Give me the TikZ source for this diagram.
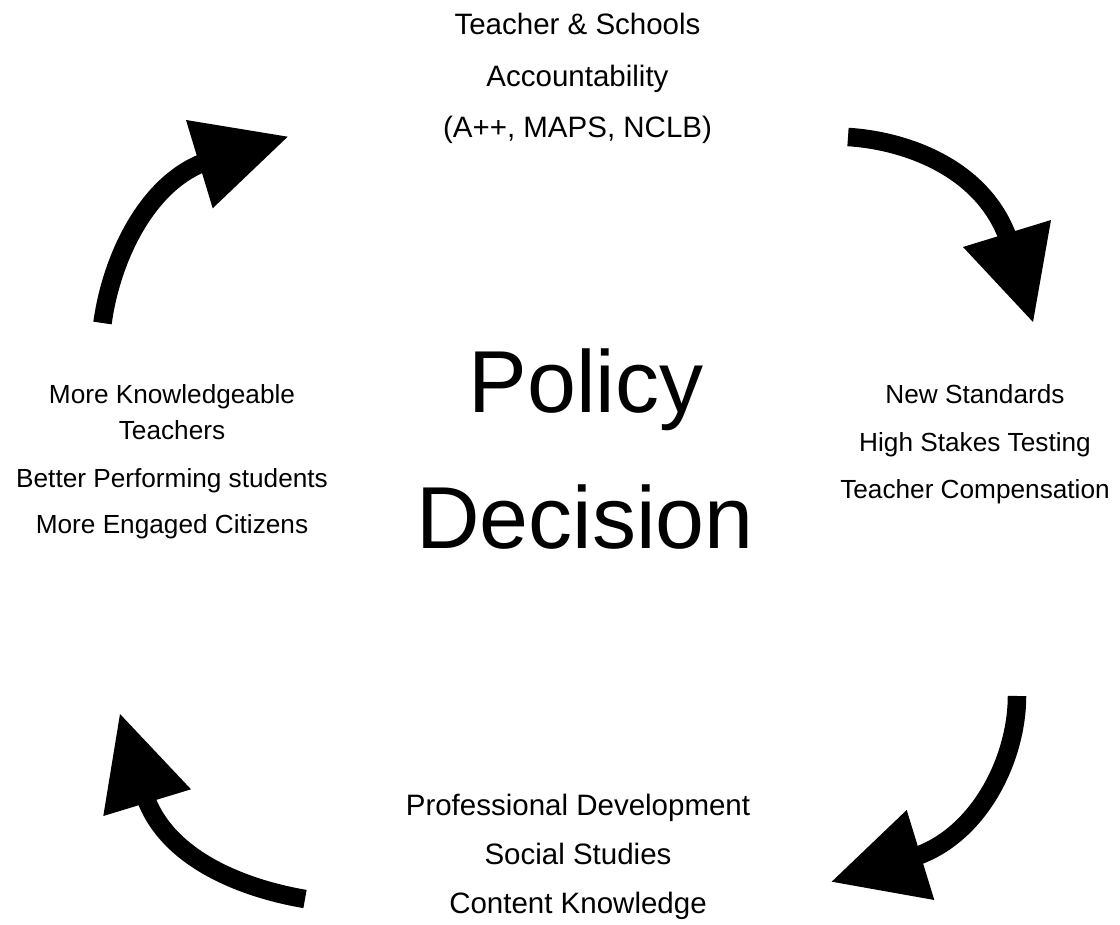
\documentclass[tikz,border=0pt]{standalone}
\usepackage{fontspec}
\setmainfont{Liberation Sans}
\begin{document}
\begin{tikzpicture}[x=1pt,y=-1pt,
  lbl/.style={inner sep=0pt,anchor=base,font=\fontsize{29.5}{30}\selectfont},
  slbl/.style={inner sep=0pt,anchor=base,font=\fontsize{26.2}{27}\selectfont},
  big/.style={inner sep=0pt,anchor=base,font=\fontsize{88}{90}\selectfont},
  shaft/.style={line width=18.5pt,line cap=butt,draw=black},
  head/.style={fill=black,draw=none}]
\useasboundingbox (0,0) rectangle (1120,925);
% top text
\node[lbl] (t1) at (577.5,35) {Teacher \& Schools};
\node[lbl] (t2) at (577.5,87) {Accountability};
\node[lbl] (t3) at (577.5,138) {(A++, MAPS, NCLB)};
% right text
\node[slbl] (r1) at (975,404) {New Standards};
\node[slbl] (r2) at (975,452) {High Stakes Testing};
\node[slbl] (r3) at (975,498) {Teacher Compensation};
% bottom text
\node[lbl] (b1) at (578,815) {Professional Development};
\node[lbl] (b2) at (578,864) {Social Studies};
\node[lbl] (b3) at (578,913) {Content Knowledge};
% left text
\node[slbl] (l1) at (172,403) {More Knowledgeable};
\node[slbl] (l2) at (172,439) {Teachers};
\node[slbl] (l3) at (172,487) {Better Performing students};
\node[slbl] (l4) at (172,533) {More Engaged Citizens};
% center
\node[big] (c1) at (586,413) {Policy};
\node[big] (c2) at (585,548) {Decision};
% top-right arrow
\coordinate (trS) at (848,137);
\coordinate (trB) at (1010,244);
\draw[shaft] (trS) .. controls (900,140) and (985,165) .. (trB);
\fill[head] (963,247) -- (1051,220) -- (1033,322) -- cycle;
% bottom-right arrow
\coordinate (brS) at (1017,696);
\coordinate (brB) at (911,858);
\draw[shaft] (brS) .. controls (1017,760) and (978,838) .. (brB);
\fill[head] (906.7,810) -- (831.7,881.7) -- (934.3,900) -- cycle;
% bottom-left arrow
\coordinate (blS) at (305,899);
\coordinate (blB) at (144,793);
\draw[shaft] (blS) .. controls (246,889) and (165,860) .. (blB);
\fill[head] (120,714) -- (103.3,816) -- (191,789.3) -- cycle;
% top-left arrow
\coordinate (tlS) at (102.5,323);
\coordinate (tlB) at (208,161);
\draw[shaft] (tlS) .. controls (112,254) and (150,180) .. (tlB);
\fill[head] (186,120) -- (287.7,136.7) -- (212.7,208.3) -- cycle;
\end{tikzpicture}
\end{document}
